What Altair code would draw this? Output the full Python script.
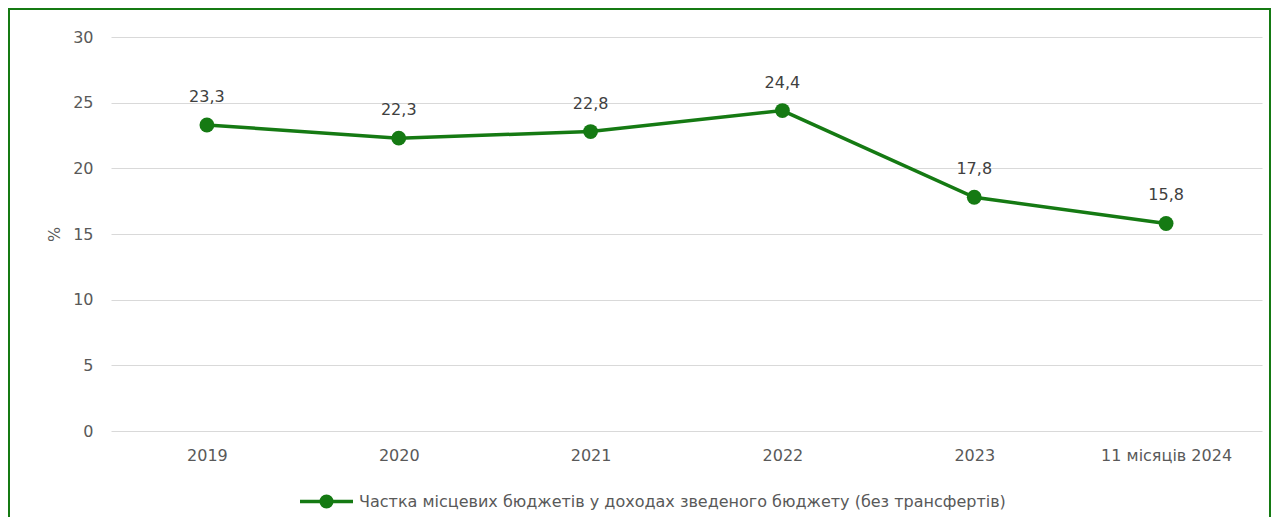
import altair as alt
import pandas as pd

categories = ["2019", "2020", "2021", "2022", "2023", "11 місяців 2024"]
values = [23.3, 22.3, 22.8, 24.4, 17.8, 15.8]
labels = ["23,3", "22,3", "22,8", "24,4", "17,8", "15,8"]
series_name = "Частка місцевих бюджетів у доходах зведеного бюджету (без трансфертів)"

GREEN = "#157A13"
FONT = "DejaVu Sans"
FS = 16

df = pd.DataFrame({"cat": categories, "val": values, "lab": labels, "series": [series_name] * len(categories)})

W, H = 1151, 394

x = alt.X("cat:N", sort=categories, scale=alt.Scale(type="point", padding=0.5),
          axis=alt.Axis(title=None, labelAngle=0, domain=False, ticks=False, grid=False,
                        labelPadding=16, labelColor="#595959", labelFont=FONT, labelFontSize=FS))
y = alt.Y("val:Q", scale=alt.Scale(domain=[0, 30]),
          axis=alt.Axis(title="%", values=[0, 5, 10, 15, 20, 25, 30], domain=False, ticks=False,
                        gridColor="#d9d9d9", gridWidth=1.2, labelPadding=18,
                        labelColor="#595959", labelFont=FONT, labelFontSize=FS,
                        titleColor="#595959", titleFont=FONT, titleFontSize=FS,
                        titleFontWeight="normal", titlePadding=10))

legend_path = ("M -1 0 L 1 0 M -0.2 0 A 0.2 0.2 0 1 0 0.2 0 A 0.2 0.2 0 1 0 -0.2 0 Z")

line = alt.Chart(df).mark_line(strokeWidth=3.5).encode(
    x=x, y=y,
    color=alt.Color("series:N", scale=alt.Scale(range=[GREEN]),
                    legend=alt.Legend(title=None, orient="none", legendX=187, legendY=436,
                                      symbolType=legend_path, symbolSize=2809,
                                      symbolStrokeWidth=3.5, symbolFillColor=GREEN,
                                      labelFont=FONT, labelFontSize=FS, labelColor="#595959",
                                      labelLimit=1000, labelOffset=4, padding=0)),
)
points = alt.Chart(df).mark_point(filled=True, size=220, opacity=1, color=GREEN).encode(x=x, y=y)
text = alt.Chart(df).mark_text(dy=-28, font=FONT, fontSize=FS, color="#404040").encode(
    x=x, y=y, text="lab:N")

frame = alt.Chart(alt.Data(values=[{}])).mark_rect(fillOpacity=0, stroke=GREEN, strokeWidth=2).encode(
    x=alt.value(-102), x2=alt.value(1159), y=alt.value(-28), y2=alt.value(H + 120))

chart = alt.layer(line, points, text, frame).properties(
    width=W, height=H,
    autosize=alt.AutoSizeParams(type="none"),
    padding={"left": 103, "top": 29, "right": 9, "bottom": 86},
).configure_view(stroke=None)

chart.save("out.html", embed_options={"renderer": "svg", "actions": False})
